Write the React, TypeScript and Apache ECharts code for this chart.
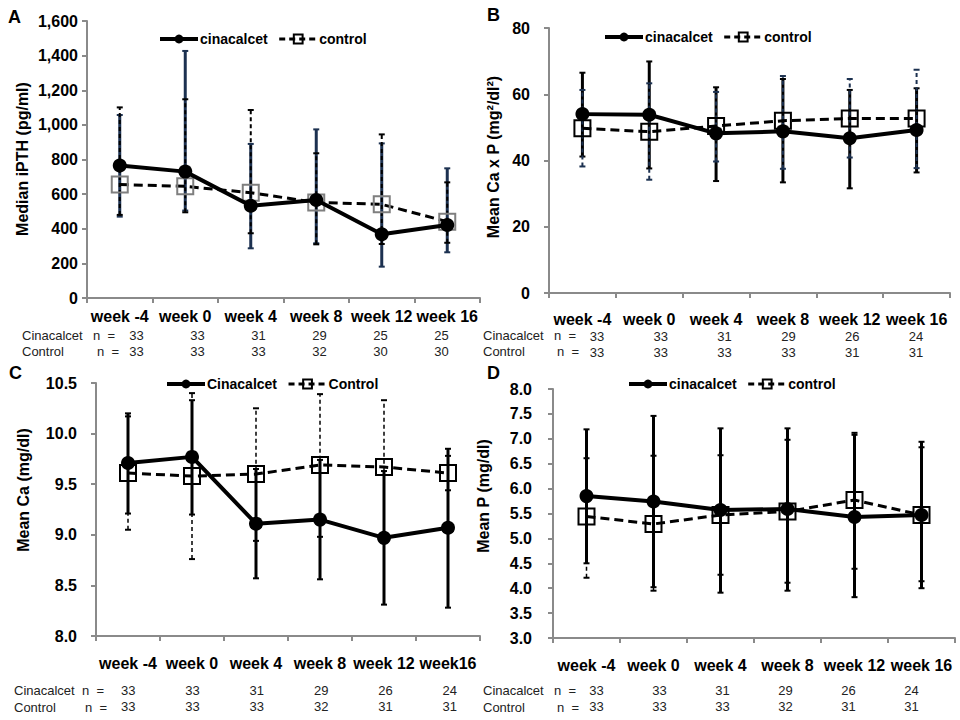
import React, { useEffect, useRef } from "react";
import * as echarts from "echarts";

const FONT = '"Liberation Sans", Arial, sans-serif';

// ---------- DATA ----------
const weeksABD = ["week -4", "week 0", "week 4", "week 8", "week 12", "week 16"];
const weeksC = ["week -4", "week 0", "week 4", "week 8", "week 12", "week16"];

// Panel A: median iPTH (pg/ml)
const cinA = [765, 730, 533, 566, 368, 422];
const ctlA = [655, 645, 608, 552, 541, 441];
const cinALo = [470, 505, 287, 316, 181, 264];
const cinAHi = [1057, 1427, 890, 974, 893, 749];
const ctlALo = [480, 495, 374, 310, 312, 319];
const ctlAHi = [1101, 1148, 1086, 836, 945, 668];

// Panel B: mean Ca x P
const cinB = [54.0, 53.8, 48.2, 48.8, 46.7, 49.2];
const ctlB = [49.7, 48.7, 50.4, 52.0, 52.7, 52.7];
const cinBLo = [41.2, 37.6, 33.8, 33.4, 31.6, 36.4];
const cinBHi = [66.5, 69.9, 62.1, 64.6, 61.3, 61.8];
const ctlBLo = [38.2, 34.2, 39.7, 37.5, 40.9, 37.7];
const ctlBHi = [61.3, 63.3, 60.7, 65.5, 64.6, 67.4];

// Panel C: mean Ca (mg/dl)
const cinC = [9.71, 9.77, 9.11, 9.15, 8.97, 9.07];
const ctlC = [9.61, 9.58, 9.6, 9.69, 9.67, 9.61];
const cinCLo = [9.21, 9.2, 8.57, 8.56, 8.31, 8.28];
const cinCHi = [10.2, 10.33, 9.65, 9.74, 9.63, 9.85];
const ctlCLo = [9.05, 8.76, 8.94, 8.98, 9.01, 9.44];
const ctlCHi = [10.17, 10.4, 10.25, 10.39, 10.33, 9.78];

// Panel D: mean P (mg/dl)
const cinD = [5.85, 5.74, 5.57, 5.59, 5.43, 5.47];
const ctlD = [5.44, 5.29, 5.47, 5.54, 5.77, 5.47];
const cinDLo = [4.5, 4.02, 3.91, 3.95, 3.82, 4.0];
const cinDHi = [7.19, 7.46, 7.21, 7.21, 7.08, 6.94];
const ctlDLo = [4.21, 3.95, 4.27, 4.11, 4.39, 4.14];
const ctlDHi = [6.61, 6.66, 6.67, 6.98, 7.12, 6.83];

// n per group
const nCinA = [33, 33, 31, 29, 25, 25];
const nCtlA = [33, 33, 33, 32, 30, 30];
const nCinB = [33, 33, 31, 29, 26, 24];
const nCtlB = [33, 33, 33, 33, 31, 31];
const nCinC = [33, 33, 31, 29, 26, 24];
const nCtlC = [33, 33, 33, 32, 31, 31];
const nCinD = [33, 33, 31, 29, 26, 24];
const nCtlD = [33, 33, 33, 32, 31, 31];

const NAVY = "#1c3150";

const panels = [
  {
    letter: "A", lx: 8, ly: 8,
    cats: weeksABD, cin: cinA, ctl: ctlA, cinLo: cinALo, cinHi: cinAHi, ctlLo: ctlALo, ctlHi: ctlAHi,
    nCin: nCinA, nCtl: nCtlA,
    names: ["cinacalcet", "control"],
    grid: { left: 87, top: 21, width: 393, height: 277 },
    nGrid: { left: 106, top: 298, width: 366 }, nMargin: 28,
    xMargin: 10, yMargin: 9,
    y: { min: 0, max: 1600, interval: 200 },
    fmt: (v: number) => String(v).replace(/\B(?=(\d{3})+(?!\d))/g, ","),
    title: "Median iPTH (pg/ml)", tx: 22, ty: 159,
    legend: { left: 153, top: 27 },
    cinErr: { color: NAVY, dash: false, w: 3 },
    ctlErr: { color: "#000", dash: true, w: 2 },
    sqBorder: "#7f7f7f",
    rows: { x: 22, y1: 335, y2: 351, nx1: 93, nx2: 97 },
  },
  {
    letter: "B", lx: 487, ly: 6,
    cats: weeksABD, cin: cinB, ctl: ctlB, cinLo: cinBLo, cinHi: cinBHi, ctlLo: ctlBLo, ctlHi: ctlBHi,
    nCin: nCinB, nCtl: nCtlB,
    names: ["cinacalcet", "control"],
    grid: { left: 549, top: 28, width: 401, height: 265 },
    nGrid: { left: 565, top: 293, width: 383 }, nMargin: 34,
    xMargin: 18, yMargin: 19,
    y: { min: 0, max: 80, interval: 20 },
    fmt: (v: number) => String(v),
    title: "Mean Ca x P (mg²/dl²)", tx: 493, ty: 157,
    legend: { left: 598, top: 25 },
    cinErr: { color: "#000", dash: false, w: 3 },
    ctlErr: { color: NAVY, dash: true, w: 2 },
    sqBorder: "#000",
    rows: { x: 483, y1: 335, y2: 351, nx1: 554, nx2: 557 },
  },
  {
    letter: "C", lx: 9, ly: 364,
    cats: weeksC, cin: cinC, ctl: ctlC, cinLo: cinCLo, cinHi: cinCHi, ctlLo: ctlCLo, ctlHi: ctlCHi,
    nCin: nCinC, nCtl: nCtlC,
    names: ["Cinacalcet", "Control"],
    grid: { left: 96, top: 383, width: 384, height: 253 },
    nGrid: { left: 96, top: 636, width: 386 }, nMargin: 45,
    xMargin: 19, yMargin: 19,
    y: { min: 8, max: 10.5, interval: 0.5 },
    fmt: (v: number) => v.toFixed(1),
    title: "Mean Ca (mg/dl)", tx: 23, ty: 490,
    legend: { left: 160, top: 372 },
    cinErr: { color: "#000", dash: false, w: 3 },
    ctlErr: { color: "#000", dash: true, w: 1.5 },
    sqBorder: "#000",
    rows: { x: 14, y1: 690, y2: 707, nx1: 82, nx2: 85 },
  },
  {
    letter: "D", lx: 487, ly: 364,
    cats: weeksABD, cin: cinD, ctl: ctlD, cinLo: cinDLo, cinHi: cinDHi, ctlLo: ctlDLo, ctlHi: ctlDHi,
    nCin: nCinD, nCtl: nCtlD,
    names: ["cinacalcet", "control"],
    grid: { left: 553, top: 389, width: 402, height: 249 },
    nGrid: { left: 565, top: 638, width: 378 }, nMargin: 43,
    xMargin: 19, yMargin: 21,
    y: { min: 3, max: 8, interval: 0.5 },
    fmt: (v: number) => v.toFixed(1),
    title: "Mean P (mg/dl)", tx: 483, ty: 496,
    legend: { left: 622, top: 372 },
    cinErr: { color: "#000", dash: false, w: 3 },
    ctlErr: { color: "#000", dash: true, w: 1.5 },
    sqBorder: "#000",
    rows: { x: 483, y1: 690, y2: 707, nx1: 554, nx2: 557 },
  },
];

function errRender(color: string, dash: boolean, w: number) {
  return (params: any, api: any) => {
    const x = api.value(0);
    const lo = api.coord([x, api.value(1)]);
    const hi = api.coord([x, api.value(2)]);
    const cw = 3;
    const main = { stroke: color, lineWidth: w, lineDash: dash ? [4, 3] : null };
    const cap = { stroke: color, lineWidth: 2 };
    return {
      type: "group",
      children: [
        { type: "line", shape: { x1: lo[0], y1: lo[1], x2: hi[0], y2: hi[1] }, style: main },
        { type: "line", shape: { x1: lo[0] - cw, y1: lo[1], x2: lo[0] + cw, y2: lo[1] }, style: cap },
        { type: "line", shape: { x1: hi[0] - cw, y1: hi[1], x2: hi[0] + cw, y2: hi[1] }, style: cap },
      ],
    };
  };
}

function buildOption() {
  const grid: any[] = [];
  const xAxis: any[] = [];
  const yAxis: any[] = [];
  const series: any[] = [];
  const legend: any[] = [];
  const graphic: any[] = [];
  const axisCol = "#8a8a8a";

  panels.forEach((p, i) => {
    const mi = 2 * i;     // main grid / axes index
    const ni = 2 * i + 1; // n-table grid / axes index
    grid.push({ ...p.grid, containLabel: false });
    xAxis.push({
      type: "category", gridIndex: mi, data: p.cats, boundaryGap: true,
      axisLine: { lineStyle: { color: axisCol, width: 2 } },
      axisTick: { show: true, length: 5, lineStyle: { color: axisCol, width: 2 } },
      axisLabel: { interval: 0, margin: p.xMargin, fontFamily: FONT, fontWeight: "bold", fontSize: 16, color: "#000" },
      splitLine: { show: false },
    });
    yAxis.push({
      type: "value", gridIndex: mi, min: p.y.min, max: p.y.max, interval: p.y.interval,
      axisLine: { show: true, lineStyle: { color: axisCol, width: 2 } },
      axisTick: { show: true, length: 5, lineStyle: { color: axisCol, width: 2 } },
      axisLabel: { margin: p.yMargin, fontFamily: FONT, fontWeight: "bold", fontSize: 16, color: "#000", formatter: p.fmt },
      splitLine: { show: false },
    });

    // n table (own invisible grid)
    grid.push({ left: p.nGrid.left, top: p.nGrid.top, width: p.nGrid.width, height: 1 });
    xAxis.push({
      type: "category", gridIndex: ni, data: p.cats.map((_, k) => `${p.nCin[k]}\n${p.nCtl[k]}`),
      axisLine: { show: false }, axisTick: { show: false }, splitLine: { show: false },
      axisLabel: { interval: 0, margin: p.nMargin, fontFamily: FONT, fontSize: 13, lineHeight: 16, color: "#222" },
    });
    yAxis.push({ type: "value", gridIndex: ni, show: false, min: 0, max: 1 });

    const cinName = p.names[0] + "_" + p.letter;
    const ctlName = p.names[1] + "_" + p.letter;
    series.push({
      type: "custom", xAxisIndex: mi, yAxisIndex: mi, z: 2, silent: true,
      renderItem: errRender(p.cinErr.color, p.cinErr.dash, p.cinErr.w),
      encode: { x: 0, y: [1, 2] },
      data: p.cats.map((_, k) => [k, p.cinLo[k], p.cinHi[k]]),
    });
    series.push({
      type: "custom", xAxisIndex: mi, yAxisIndex: mi, z: 2, silent: true,
      renderItem: errRender(p.ctlErr.color, p.ctlErr.dash, p.ctlErr.w),
      encode: { x: 0, y: [1, 2] },
      data: p.cats.map((_, k) => [k, p.ctlLo[k], p.ctlHi[k]]),
    });
    series.push({
      type: "line", name: ctlName, xAxisIndex: mi, yAxisIndex: mi, z: 3,
      data: p.ctl, symbol: "rect", symbolSize: 16, showAllSymbol: true,
      lineStyle: { color: "#000", width: 3, type: [9, 5] },
      itemStyle: { color: "rgba(255,255,255,0)", borderColor: p.sqBorder, borderWidth: 2 },
    });
    series.push({
      type: "line", name: cinName, xAxisIndex: mi, yAxisIndex: mi, z: 4,
      data: p.cin, symbol: "circle", symbolSize: 14, showAllSymbol: true,
      lineStyle: { color: "#000", width: 4 },
      itemStyle: { color: "#000" },
    });
    const labelMap: Record<string, string> = { [cinName]: p.names[0], [ctlName]: p.names[1] };
    legend.push({
      left: p.legend.left, top: p.legend.top, orient: "horizontal",
      itemWidth: 38, itemHeight: 11, itemGap: 10, selectedMode: false,
      data: [
        { name: cinName, lineStyle: { width: 4, color: "#000" } },
        { name: ctlName, lineStyle: { width: 3, color: "#000", type: [6, 4] }, itemStyle: { borderColor: "#000" } },
      ],
      formatter: (n: string) => labelMap[n],
      textStyle: { fontFamily: FONT, fontWeight: "bold", fontSize: 14, color: "#000", padding: [0, 0, 0, -3] },
    });

    const rowStyle = { fontFamily: FONT, fontSize: 13, fill: "#222" };
    graphic.push(
      { type: "text", left: p.lx, top: p.ly, style: { text: p.letter, font: `bold 18px ${FONT}`, fill: "#000" } },
      { type: "text", x: p.tx, y: p.ty, rotation: Math.PI / 2,
        style: { text: p.title, font: `bold 16px ${FONT}`, fill: "#000", align: "center", verticalAlign: "middle" } },
      { type: "text", x: p.rows.x, y: p.rows.y1, style: { ...rowStyle, text: "Cinacalcet", verticalAlign: "middle" } },
      { type: "text", x: p.rows.nx1, y: p.rows.y1, style: { ...rowStyle, text: "n  =", verticalAlign: "middle" } },
      { type: "text", x: p.rows.x, y: p.rows.y2, style: { ...rowStyle, text: "Control", verticalAlign: "middle" } },
      { type: "text", x: p.rows.nx2, y: p.rows.y2, style: { ...rowStyle, text: "n  =", verticalAlign: "middle" } },
    );
  });

  return {
    animation: false,
    backgroundColor: "#fff",
    textStyle: { fontFamily: FONT },
    grid, xAxis, yAxis, series, legend, graphic,
  };
}

export default function App() {
  const ref = useRef<HTMLDivElement>(null);
  useEffect(() => {
    if (!ref.current) return;
    const chart = echarts.init(ref.current, undefined, { renderer: "svg" });
    chart.setOption(buildOption() as any);
    return () => chart.dispose();
  }, []);
  return <div ref={ref} style={{ position: "fixed", left: 0, top: 0, width: 960, height: 720 }} />;
}
